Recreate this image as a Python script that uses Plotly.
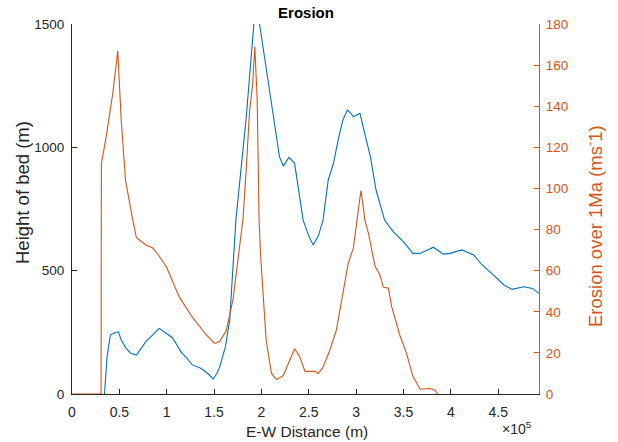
import plotly.graph_objects as go

# Height of bed (left axis), x in units of 1e5 m
bed_x = [0.343, 0.37, 0.405, 0.45, 0.49, 0.52, 0.57, 0.62, 0.68, 0.78, 0.85, 0.92, 0.995,
         1.065, 1.15, 1.20, 1.27, 1.36, 1.44, 1.49, 1.53, 1.56, 1.62, 1.665, 1.73, 1.84,
         1.92, 1.95, 1.98, 2.05, 2.12, 2.19, 2.23, 2.29, 2.35, 2.44, 2.50, 2.546, 2.60,
         2.65, 2.705, 2.76, 2.81, 2.86, 2.906, 2.94, 2.97, 3.00, 3.04, 3.09, 3.15, 3.21,
         3.30, 3.39, 3.50, 3.60, 3.675, 3.815, 3.92, 3.99, 4.116, 4.24, 4.33, 4.45, 4.56,
         4.645, 4.77, 4.86, 4.93]
bed_y = [0, 150, 239, 248, 252, 219, 186, 165, 158, 212, 239, 266, 246,
         226, 171, 151, 118, 104, 81, 60, 84, 111, 192, 300, 705, 1124,
         1500, 1560, 1500, 1327, 1151, 962, 924, 959, 935, 705, 640, 604, 640,
         705, 867, 935, 1030, 1111, 1151, 1140, 1124, 1130, 1138, 1057, 962, 827,
         705, 658, 617, 570, 570, 595, 567, 570, 584, 564, 523, 482, 442,
         424, 435, 428, 408]

# Erosion over 1Ma (right axis)
ero_x = [0, 0.307, 0.31, 0.36, 0.43, 0.483, 0.52, 0.565, 0.64, 0.68, 0.78, 0.853, 0.906,
         0.995, 1.135, 1.276, 1.418, 1.506, 1.56, 1.63, 1.70, 1.77, 1.805, 1.84, 1.875,
         1.905, 1.93, 1.955, 1.975, 1.99, 2.05, 2.106, 2.16, 2.23, 2.30, 2.35, 2.405,
         2.46, 2.52, 2.565, 2.60, 2.65, 2.72, 2.79, 2.86, 2.916, 2.97, 3.02, 3.05, 3.075,
         3.09, 3.13, 3.20, 3.25, 3.286, 3.34, 3.375, 3.46, 3.53, 3.60, 3.675, 3.78, 3.83, 3.86]
ero_y = [0, 0, 112, 125, 146, 167, 133, 104, 85, 76, 72.5, 71, 68,
         62, 47, 37, 28.7, 24.6, 25.5, 31, 46, 72, 85, 110, 138,
         149.5, 169, 143, 85, 68, 26, 10, 7, 9, 16.5, 22, 18,
         11, 11, 11, 10, 13, 21, 31, 49, 63.6, 71, 89.5, 99, 91,
         85, 78, 62, 58, 52, 51.5, 42.5, 28.7, 20, 8.5, 2.3, 2.7, 2, 0]

x_ticks = [0, 0.5, 1, 1.5, 2, 2.5, 3, 3.5, 4, 4.5]
x_tick_labels = ["0", "0.5", "1", "1.5", "2", "2.5", "3", "3.5", "4", "4.5"]
left_ticks = [0, 500, 1000, 1500]
right_ticks = [0, 20, 40, 60, 80, 100, 120, 140, 160, 180]

SCALE = 1e5
BLUE = "#0072BD"
ORANGE = "#D95319"
DARK = "#262626"
FONT = "Liberation Sans, Arial, sans-serif"

W, H = 618, 442
L, R, T, B = 72, 539, 24, 394  # plot area edges in page pixels
PW, PH = R - L, B - T

fig = go.Figure()
fig.add_trace(go.Scatter(x=[v * SCALE for v in bed_x], y=bed_y, mode="lines",
                         line=dict(color=BLUE, width=1.1), yaxis="y", showlegend=False))
fig.add_trace(go.Scatter(x=[v * SCALE for v in ero_x], y=ero_y, mode="lines",
                         line=dict(color=ORANGE, width=1.1), yaxis="y2", showlegend=False))

fig.update_layout(
    width=W, height=H,
    margin=dict(l=L, r=W - R, t=T, b=H - B),
    paper_bgcolor="white", plot_bgcolor="white",
    font=dict(family=FONT, size=13, color=DARK),
    title=dict(text="<b>Erosion</b>", x=306 / W, xanchor="center",
               y=1 - 12.5 / H, yanchor="middle", font=dict(size=15, color="black")),
    xaxis=dict(range=[0, 4.93 * SCALE], tickvals=[v * SCALE for v in x_ticks],
               ticktext=x_tick_labels, ticks="inside", ticklen=5, tickcolor=DARK,
               showline=True, linecolor=DARK, linewidth=1, showgrid=False, zeroline=False,
               ticklabelstandoff=5, tickfont=dict(size=14, color=DARK)),
    yaxis=dict(range=[0, 1500], tickvals=left_ticks, ticks="inside", ticklen=5,
               tickcolor=DARK, showline=True, linecolor=DARK, linewidth=1,
               showgrid=False, zeroline=False, ticklabelstandoff=4,
               tickfont=dict(size=13.5, color=DARK)),
    yaxis2=dict(range=[0, 180], tickvals=right_ticks, overlaying="y", side="right",
                ticks="inside", ticklen=5, tickcolor=ORANGE, showline=True,
                linecolor=ORANGE, linewidth=1, showgrid=False, zeroline=False,
                ticklabelstandoff=3, tickfont=dict(size=13.5, color=ORANGE)),
    annotations=[
        dict(text="E-W Distance (m)", xref="paper", yref="paper", x=(307 - L) / PW,
             y=-(431.5 - B) / PH, xanchor="center", yanchor="middle", showarrow=False,
             font=dict(size=15.5, color=DARK)),
        dict(text="×10<sup>5</sup>", xref="paper", yref="paper", x=(534 - L) / PW,
             y=-(428 - B) / PH, xanchor="right", yanchor="middle", showarrow=False,
             font=dict(size=14, color=DARK)),
        dict(text="Height of bed (m)", xref="paper", yref="paper", x=-(L - 22) / PW,
             y=(B - 193) / PH, xanchor="center", yanchor="middle", textangle=-90,
             showarrow=False, font=dict(size=18.5, color=DARK)),
        dict(text="Erosion over 1Ma (ms<sup>-</sup>1)", xref="paper", yref="paper",
             x=(594 - L) / PW, y=(B - 226) / PH, xanchor="center", yanchor="middle",
             textangle=-90, showarrow=False, font=dict(size=18.5, color=ORANGE)),
    ],
)

fig.write_html("out.html", config={"displayModeBar": False},
               post_script="document.body.style.margin='0px';")
